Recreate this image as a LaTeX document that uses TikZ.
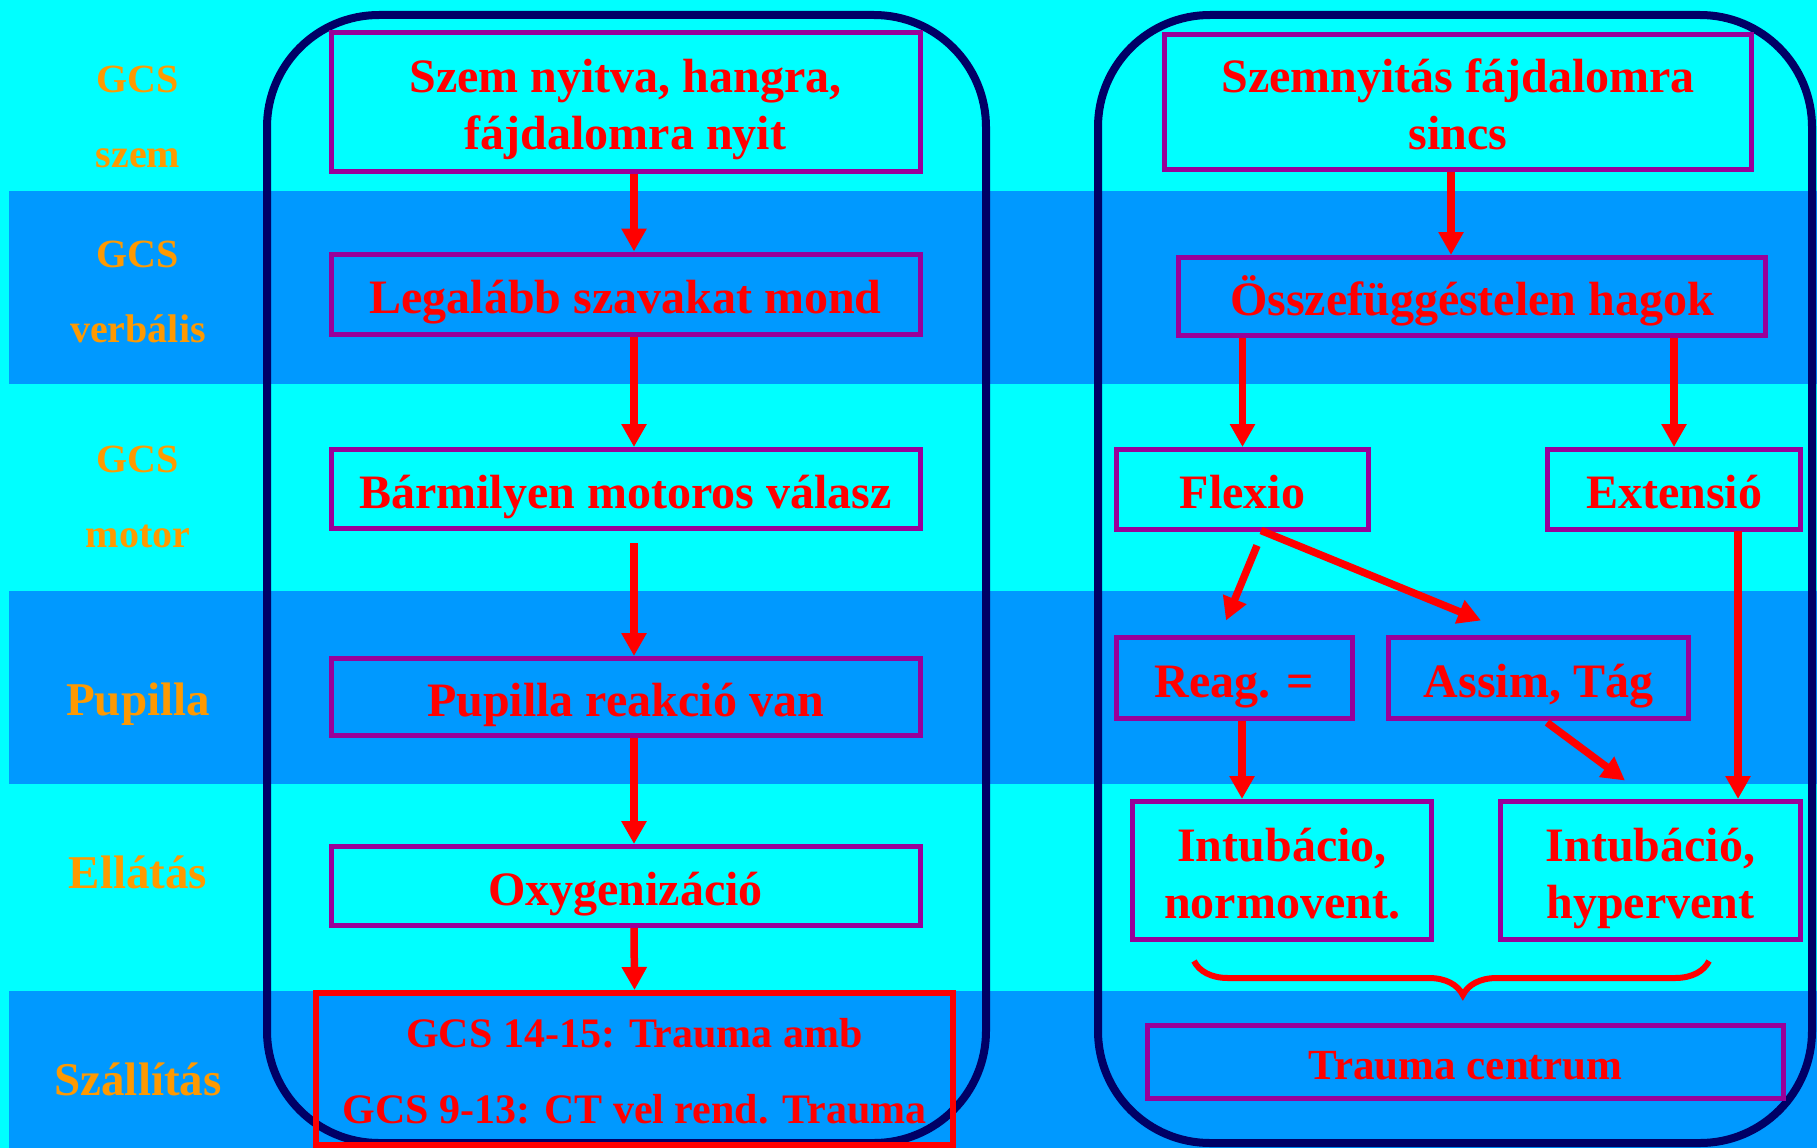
\documentclass[tikz,border=0pt]{standalone}
\usepackage{fontspec}
\setmainfont{Liberation Serif}
\usetikzlibrary{arrows.meta,decorations.pathreplacing}
\definecolor{bgcyan}{HTML}{00FFFF}
\definecolor{bandblue}{HTML}{0099FF}
\definecolor{navyline}{HTML}{000066}
\definecolor{boxpurple}{HTML}{990099}
\definecolor{lblorange}{HTML}{FF9900}
\newcommand\onestrut{\rule[-0.3em]{0pt}{1.4em}}
\newcommand\topstrut{\rule{0pt}{1.1em}}
\newcommand\botstrut{\rule[-0.3em]{0pt}{0.3em}}
\begin{document}
\begin{tikzpicture}[x=1pt,y=-1pt,
  box/.style={draw=boxpurple, line width=5pt, text=red, inner sep=0pt, align=center,
    font=\bfseries\fontsize{48}{57}\selectfont},
  cbox/.style={box, fill=bgcyan},
  bbox/.style={box, fill=bandblue},
  redbox/.style={draw=red, line width=6pt, text=red, inner sep=0pt, align=center,
    font=\bfseries\fontsize{42}{76}\selectfont},
  lbl/.style={text=lblorange, align=center, inner sep=0pt, font=\bfseries\fontsize{40}{75}\selectfont},
  biglbl/.style={text=lblorange, inner sep=0pt, anchor=base, font=\bfseries\fontsize{47}{56}\selectfont},
  arr/.style={draw=red, line width=7.5pt, -{Triangle[width=24pt,length=23pt]}},
  container/.style={draw=navyline, line width=8pt, rounded corners=112pt},
  bandbg/.style={fill=bandblue, draw=none}
]
% background and bands
\fill[bgcyan] (0,0) rectangle (1817,1148);
\path[use as bounding box] (0,0) rectangle (1817,1148);
\path[bandbg] (9,191) rectangle (1817,384);
\path[bandbg] (9,591) rectangle (1817,784);
\path[bandbg] (9,991) rectangle (1817,1148);

% row labels
\node[lbl] (lab1) at (138,117) {GCS\\szem};
\node[lbl] (lab2) at (138,292) {GCS\\verbális};
\node[lbl] (lab3) at (138,497) {GCS\\motor};
\node[biglbl] (lab4) at (138,715) {Pupilla};
\node[biglbl] (lab5) at (138,888) {Ellátás};
\node[biglbl] (lab6) at (138,1095) {Szállítás};

% containers
\draw[container] (267,15) rectangle (986,1143);
\draw[container] (1098,15) rectangle (1812,1143);

% left column
\node[cbox, minimum width=589pt, minimum height=138pt] (L1) at (625.5,102) {\topstrut Szem nyitva, hangra,\\\botstrut fájdalomra nyit};
\node[bbox, minimum width=589pt, minimum height=80pt] (L2) at (625.5,294) {\onestrut Legalább szavakat mond};
\node[cbox, minimum width=589pt, minimum height=79pt] (L3) at (625.5,489) {\onestrut Bármilyen motoros válasz};
\node[bbox, minimum width=589pt, minimum height=77pt] (L4) at (625.5,697) {\onestrut Pupilla reakció van};
\node[cbox, minimum width=589pt, minimum height=79pt] (L5) at (625.5,886) {\onestrut Oxygenizáció};
\node[redbox, minimum width=637pt, minimum height=152pt] (L6) at (634.5,1069) {\topstrut GCS 14-15: Trauma amb\\\botstrut GCS 9-13: CT vel rend. Trauma};

\draw[arr] ([xshift=8.5pt]L1.south) -- ([xshift=8.5pt]L2.north);
\draw[arr] ([xshift=8.5pt]L2.south) -- ([xshift=8.5pt]L3.north);
\draw[arr] ([shift={(8.5,12)}]L3.south) -- ([xshift=8.5pt]L4.north);
\draw[arr] ([xshift=8.5pt]L4.south) -- ([xshift=8.5pt]L5.north);
\draw[arr] ([xshift=8.5pt]L5.south) -- (L6.north);

% right column
\node[cbox, minimum width=587pt, minimum height=135pt] (R1) at (1458,102) {\topstrut Szemnyitás fájdalomra\\\botstrut sincs};
\node[bbox, minimum width=587pt, minimum height=78pt] (R2) at (1472,296.5) {\onestrut Összefüggéstelen hagok};
\node[cbox, minimum width=252pt, minimum height=80pt] (R3) at (1242.5,489.5) {\onestrut Flexio};
\node[cbox, minimum width=253pt, minimum height=80pt] (R4) at (1674,489.5) {\onestrut Extensió};
\node[bbox, minimum width=236pt, minimum height=81pt] (R5) at (1234.5,678) {\onestrut Reag. =};
\node[bbox, minimum width=300pt, minimum height=81pt] (R6) at (1538.5,678) {\onestrut Assim, Tág};
\node[cbox, minimum width=299pt, minimum height=138pt] (R7) at (1282,870.5) {\topstrut Intubácio,\\\botstrut normovent.};
\node[cbox, minimum width=300pt, minimum height=138pt] (R8) at (1650.5,870.5) {\topstrut Intubáció,\\\botstrut hypervent};
\node[bbox, minimum width=636pt, minimum height=73pt,
  font=\bfseries\fontsize{43}{50}\selectfont] (R9) at (1465.5,1062) {\onestrut Trauma centrum};

\draw[arr] ([xshift=-7pt]R1.south) -- ([xshift=-21pt]R2.north);
\draw[arr] (R3.north |- R2.south) -- (R3.north);
\draw[arr] (R4.north |- R2.south) -- (R4.north);
\draw[arr] ([shift={(14.5,13.5)}]R3.south) -- ([shift={(-8.5,-14.5)}]R5.north);
\draw[arr] ([shift={(18.5,-1.5)}]R3.south) -- ([shift={(-57.5,-14.5)}]R6.north);
\draw[arr] ([shift={(8.5,1.5)}]R6.south) -- ([shift={(-25.5,-18.5)}]R8.north);
\draw[arr] ([shift={(64,-1.5)}]R4.south) -- ([xshift=87.5pt]R8.north);
\draw[arr] ([xshift=7.5pt]R5.south) -- ([xshift=7.5pt]R5.south |- R7.north);

% brace
\coordinate (brL) at (1194,961);
\coordinate (brR) at (1709,961);
\draw[red, line width=6pt, decorate,
  decoration={brace, mirror, amplitude=34pt, aspect=0.522}] (brL) -- (brR);
\end{tikzpicture}
\end{document}
